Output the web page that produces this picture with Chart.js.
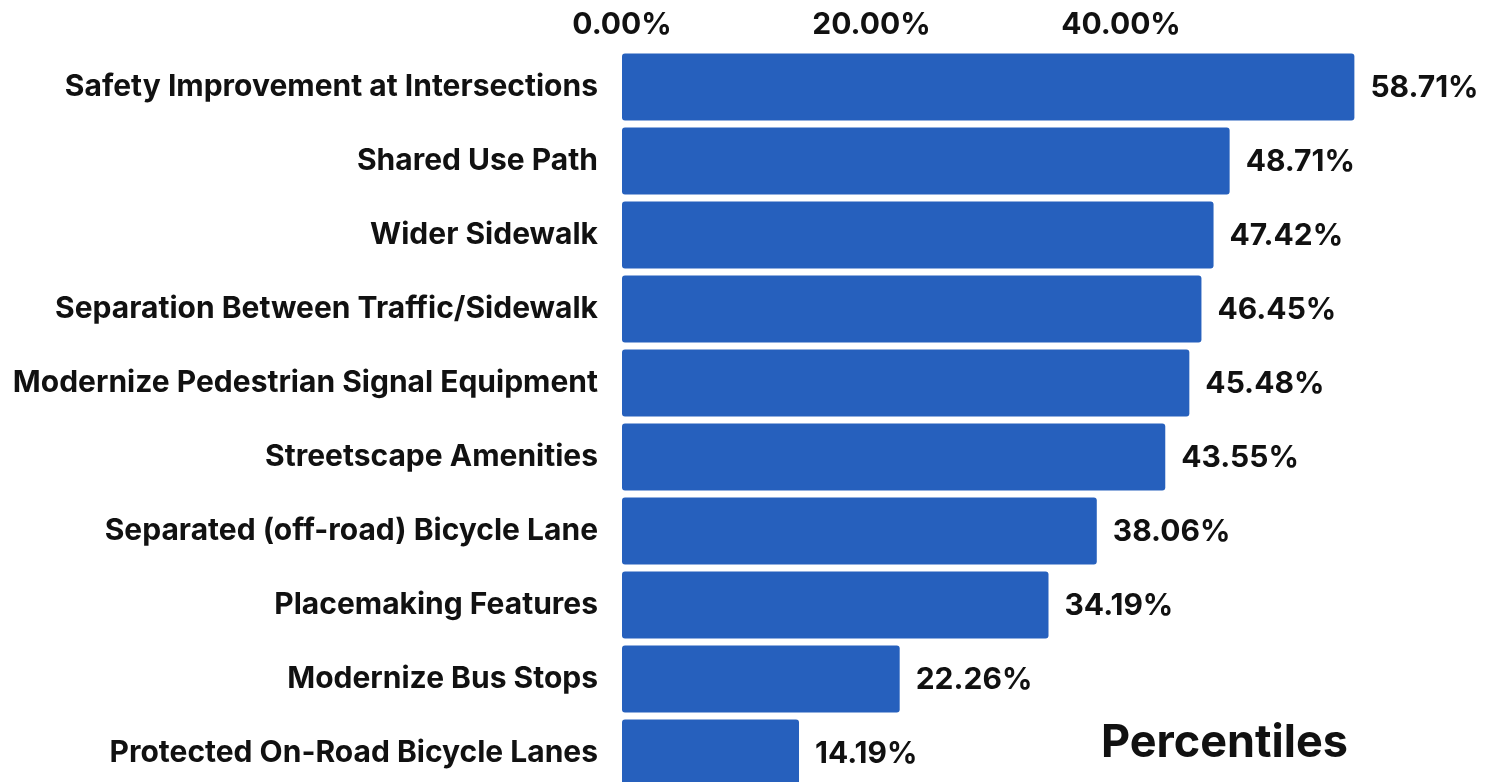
<!DOCTYPE html>
<html>
<head>
<meta charset="utf-8">
<script src="https://cdn.jsdelivr.net/npm/chart.js@4"></script>
<style>
  html, body { margin: 0; padding: 0; background: #fff; overflow: hidden; }
</style>
</head>
<body>
<canvas id="graph_bars" width="1494" height="790"></canvas>
<script>
const categories = [
  'Safety Improvement at Intersections',
  'Shared Use Path',
  'Wider Sidewalk',
  'Separation Between Traffic/Sidewalk',
  'Modernize Pedestrian Signal Equipment',
  'Streetscape Amenities',
  'Separated (off-road) Bicycle Lane',
  'Placemaking Features',
  'Modernize Bus Stops',
  'Protected On-Road Bicycle Lanes'
]
const percentValues = [58.71, 48.71, 47.42, 46.45, 45.48, 43.55, 38.06, 34.19, 22.26, 14.19]
const tickValues = [0, 20, 40]
const axisNote = 'Percentiles'

const FONT = 'Inter, Roboto, sans-serif'
const INK = '#111111'

// value labels at the end of every bar + the "Percentiles" note
const barLabels = {
  id: 'barLabels',
  afterDatasetsDraw(chart) {
    const ctx = chart.ctx
    const meta = chart.getDatasetMeta(0)
    ctx.save()
    ctx.fillStyle = INK
    ctx.font = 'bold 30px ' + FONT
    ctx.textAlign = 'left'
    ctx.textBaseline = 'middle'
    meta.data.forEach(function(bar, i) {
      ctx.fillText(percentValues[i].toFixed(2) + '%', bar.x + 16, bar.y + 1)
    })
    // note
    ctx.font = 'bold 45px ' + FONT
    ctx.textBaseline = 'alphabetic'
    ctx.fillText(axisNote, 1101, 757)
    ctx.restore()
  }
}

new Chart(document.getElementById('graph_bars'), {
  type: 'bar',
  data: {
    labels: categories,
    datasets: [{
      data: percentValues,
      backgroundColor: '#2660BD',
      borderRadius: 3,
      borderSkipped: false,
      barPercentage: 0.907,
      categoryPercentage: 1
    }]
  },
  options: {
    indexAxis: 'y',
    responsive: false,
    animation: false,
    layout: { padding: { left: 0, right: 136, top: 0, bottom: 0 } },
    plugins: {
      legend: { display: false },
      tooltip: { enabled: false }
    },
    scales: {
      x: {
        position: 'top',
        min: 0,
        max: 59,
        grid: { display: false },
        border: { display: false },
        afterBuildTicks(scale) {
          scale.ticks = tickValues.map(v => ({ value: v }))
        },
        ticks: {
          color: INK,
          font: { family: FONT, size: 30, weight: 'bold' },
          padding: -1,
          callback: v => v.toFixed(2) + '%'
        },
        afterFit(scale) { scale.height = 50 }
      },
      y: {
        grid: { display: false },
        border: { display: false },
        ticks: {
          color: INK,
          font: { family: FONT, size: 30, weight: 'bold' },
          padding: 16
        },
        afterFit(scale) {
          scale.width = 622
          scale.paddingTop = 0
          scale.paddingBottom = 0
        }
      }
    }
  },
  plugins: [barLabels]
})
</script>
</body>
</html>
